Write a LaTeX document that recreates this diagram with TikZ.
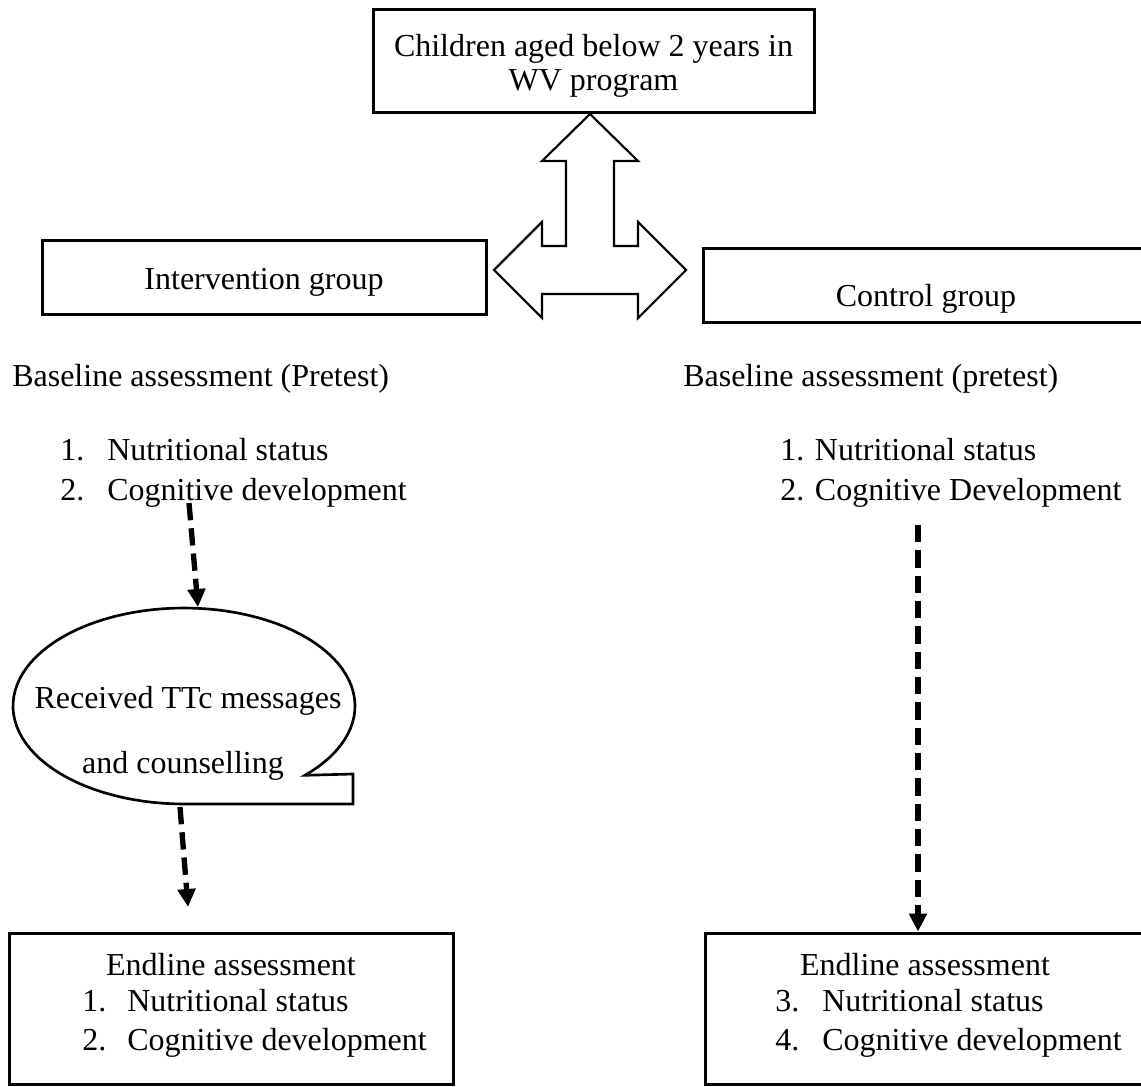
\documentclass[tikz,border=0pt]{standalone}
\usepackage{fontspec}
\setmainfont{Liberation Serif}
\usetikzlibrary{arrows.meta,shapes.geometric}
\begin{document}
\begin{tikzpicture}[x=0.75pt,y=-0.75pt,
  box/.style={draw, line width=2.25pt, inner sep=0pt},
  txt/.style={font=\fontsize{24}{25.5}\selectfont, inner sep=0pt, anchor=base},
  txtl/.style={txt, anchor=base west},
  dasharrow/.style={line width=4pt, dash pattern=on 13pt off 6pt, -{Triangle[length=13.5pt,width=13pt]}},
  bigarrow/.style={draw, line width=1.6pt, line join=miter},
]
\useasboundingbox (0,0) rectangle (1141,1087);

% boxes
\node[box, minimum width=330.75pt, minimum height=77.25pt] (top) at (593.5,61.5) {};
\node[box, minimum width=333pt, minimum height=55.5pt] (interv) at (264,278) {};
\node[box, minimum width=335.25pt, minimum height=55.5pt] (control) at (926.5,286) {};
\node[box, minimum width=333pt, minimum height=113.6pt] (endl) at (231,1008.75) {};
\node[box, minimum width=333.75pt, minimum height=113.6pt] (endr) at (927.5,1008.75) {};

% three-way block arrow
\draw[bigarrow] (590,114) -- (638,161) -- (614,161) -- (614,246) -- (638,246) -- (638,222)
  -- (686,270) -- (638,318) -- (638,294) -- (542,294) -- (542,318) -- (494,270)
  -- (542,222) -- (542,246) -- (566,246) -- (566,161) -- (542,161) -- cycle;

% callout bubble
\node[ellipse, inner sep=0pt, minimum width=256.5pt, minimum height=147pt] (bubble) at (184,706) {};
\draw[line width=2pt, line join=miter] plot[domain=45:-270, samples=90]
  ({184+171*cos(\x)},{706+98*sin(\x)}) -- (353,804) -- (353,774) -- cycle;

% texts
\node[txt] (t1) at (593.5,57) {Children aged below 2 years in};
\node[txt] (t2) at (593.5,91) {WV program};
\node[txt] (ti) at (264,290) {Intervention group};
\node[txt] (tc) at (926,306) {Control group};

\node[txtl] (bl) at (12,386) {Baseline assessment (Pretest)};
\node[txtl] (br) at (683,386) {Baseline assessment (pretest)};

\node[txtl] (bl1n) at (60,460) {1.};
\node[txtl] (bl1) at (107,460) {Nutritional status};
\node[txtl] (bl2n) at (60,500) {2.};
\node[txtl] (bl2) at (107,500) {Cognitive development};

\node[txtl] (br1) at (780,460) {1. Nutritional status};
\node[txtl] (br2) at (780,500) {2. Cognitive Development};

\node[txt] (bt1) at (188,708) {Received TTc messages};
\node[txt] (bt2) at (183,773) {and counselling};

\node[txt] (el0) at (231,975) {Endline assessment};
\node[txtl] (el1n) at (82,1011) {1.};
\node[txtl] (el1) at (127,1011) {Nutritional status};
\node[txtl] (el2n) at (82,1050) {2.};
\node[txtl] (el2) at (127,1050) {Cognitive development};

\node[txt] (er0) at (925,975) {Endline assessment};
\node[txtl] (er1n) at (775,1011) {3.};
\node[txtl] (er1) at (822,1011) {Nutritional status};
\node[txtl] (er2n) at (775,1050) {4.};
\node[txtl] (er2) at (822,1050) {Cognitive development};

% dashed connectors
\coordinate (d1s) at (189,503);
\coordinate (d1e) at (198,607);
\coordinate (d2s) at (180,807);
\coordinate (d2e) at (188,907);
\coordinate (d3s) at (918,525);
\draw[dasharrow] (d1s) -- (d1e);
\draw[dasharrow] (d2s) -- (d2e);
\draw[dasharrow] (d3s) -- (d3s |- endr.north);
\end{tikzpicture}
\end{document}
